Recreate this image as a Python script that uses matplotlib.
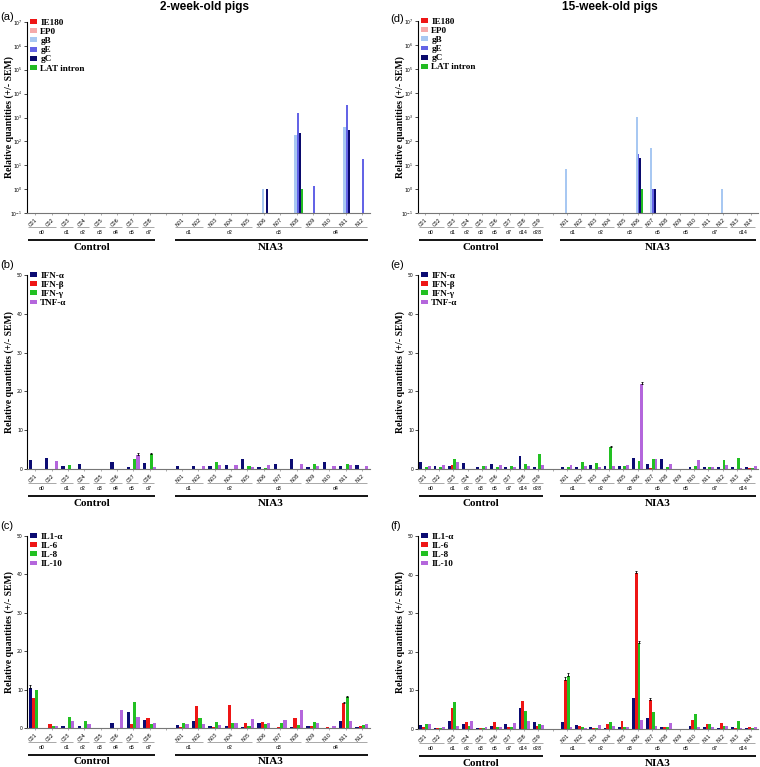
import numpy as np
import matplotlib
matplotlib.use('Agg')
import matplotlib.pyplot as plt
from matplotlib.transforms import blended_transform_factory
from matplotlib.ticker import LogLocator, NullLocator, FixedLocator

W, H = 760, 767
SERIF = 'Liberation Serif'
SANS = 'Liberation Sans'

# ---- samples / days ----
samples_2w = ['C01', 'C02', 'C03', 'C04', 'C05', 'C06', 'C07', 'C08',
              'N01', 'N02', 'N03', 'N04', 'N05', 'N06', 'N07', 'N08', 'N09', 'N10', 'N11', 'N12']
days_2w = ['d0', 'd0', 'd1', 'd2', 'd3', 'd4', 'd5', 'd7',
           'd1', 'd1', 'd2', 'd2', 'd2', 'd3', 'd3', 'd3', 'd4', 'd4', 'd4', 'd4']
nctrl_2w = 8

samples_15w = ['C01', 'C02', 'C03', 'C04', 'C05', 'C06', 'C07', 'C08', 'C09',
               'N01', 'N02', 'N03', 'N04', 'N05', 'N06', 'N07', 'N08', 'N09', 'N10', 'N11', 'N12', 'N13', 'N14']
days_15w = ['d0', 'd0', 'd1', 'd2', 'd3', 'd5', 'd7', 'd14', 'd28',
            'd1', 'd1', 'd2', 'd2', 'd3', 'd3', 'd5', 'd5', 'd6', 'd6', 'd7', 'd7', 'd14', 'd14']
nctrl_15w = 9

# ---- (a) viral genes, 2-week ----
ie180_2w = [0, 0, 0, 0, 0, 0, 0, 0, 0, 0, 0, 0, 0, 0, 0, 0, 0, 0, 0, 0]
ep0_2w = [0, 0, 0, 0, 0, 0, 0, 0, 0, 0, 0, 0, 0, 0, 0, 0, 0, 0, 0, 0]
gB_2w = [0, 0, 0, 0, 0, 0, 0, 0, 0, 0, 0, 0, 0, 1.0, 0, 180, 0, 0, 400, 0]
gE_2w = [0, 0, 0, 0, 0, 0, 0, 0, 0, 0, 0, 0, 0, 0, 0, 1600, 1.3, 0, 3500, 19]
gC_2w = [0, 0, 0, 0, 0, 0, 0, 0, 0, 0, 0, 0, 0, 1.0, 0, 220, 0, 0, 300, 0]
lat_2w = [0, 0, 0, 0, 0, 0, 0, 0, 0, 0, 0, 0, 0, 0, 0, 1.0, 0, 0, 0, 0]

# ---- (d) viral genes, 15-week ----
ie180_15w = [0, 0, 0, 0, 0, 0, 0, 0, 0, 0, 0, 0, 0, 0, 0, 0, 0, 0, 0, 0, 0, 0, 0]
ep0_15w = [0, 0, 0, 0, 0, 0, 0, 0, 0, 0, 0, 0, 0, 0, 0, 0, 0, 0, 0, 0, 0, 0, 0]
gB_15w = [0, 0, 0, 0, 0, 0, 0, 0, 0, 6.5, 0, 0, 0, 0, 1000, 50, 0, 0, 0, 0, 1.0, 0, 0]
gE_15w = [0, 0, 0, 0, 0, 0, 0, 0, 0, 0, 0, 0, 0, 0, 30, 1.0, 0, 0, 0, 0, 0, 0, 0]
gC_15w = [0, 0, 0, 0, 0, 0, 0, 0, 0, 0, 0, 0, 0, 0, 19, 1.0, 0, 0, 0, 0, 0, 0, 0]
lat_15w = [0, 0, 0, 0, 0, 0, 0, 0, 0, 0, 0, 0, 0, 0, 1.0, 0, 0, 0, 0, 0, 0, 0, 0]

# ---- (b) interferons / TNF, 2-week ----
ifna_2w = [2.2, 2.9, 0.7, 1.2, 0, 1.7, 0.5, 1.6, 0.9, 0.9, 0.9, 1.0, 2.6, 0.5, 1.3, 2.5, 0.6, 1.7, 0.9, 1.0]
ifnb_2w = [0, 0, 0, 0, 0, 0.1, 0, 0, 0.1, 0, 0, 0, 0, 0, 0, 0, 0, 0, 0, 0]
ifng_2w = [0, 0, 1.1, 0, 0, 0, 2.6, 3.9, 0, 0, 1.9, 0, 0.9, 0.2, 0, 0, 1.3, 0, 1.2, 0]
tnfa_2w = [0, 2.1, 0, 0, 0, 0, 3.7, 0.6, 0, 0.7, 1.1, 1.1, 0.4, 1.1, 0, 1.3, 0.9, 0.8, 1.1, 0.7]

# ---- (e) interferons / TNF, 15-week ----
ifna_15w = [1.7, 0.8, 0.7, 1.5, 0.5, 1.3, 0.6, 3.4, 0.5, 0.4, 0.4, 1.0, 0.8, 0.8, 2.8, 1.2, 2.5, 0, 0.5, 0.6, 0.6, 0.6, 0.4]
ifnb_15w = [0, 0, 1.0, 0, 0, 0, 0, 0, 0, 0, 0, 0, 0, 0, 0, 0.3, 0, 0, 0, 0, 0, 0, 0.3]
ifng_15w = [0.6, 0.4, 2.6, 0, 0.8, 0.4, 0.9, 1.2, 3.9, 0.4, 1.8, 1.5, 5.6, 0.8, 2.0, 2.7, 0.6, 0, 0.9, 0.4, 2.3, 2.8, 0.2]
tnfa_15w = [0.9, 1.0, 1.7, 0, 0.9, 1.1, 0.6, 0.8, 1.1, 1.1, 0.9, 0.5, 0.9, 1.0, 22.0, 2.5, 1.4, 0, 2.2, 0.6, 1.0, 0.3, 0.9]

# ---- (c) interleukins, 2-week ----
il1a_2w = [10.3, 0, 0.4, 0.5, 0, 1.3, 4.2, 2.0, 0.8, 1.7, 0.5, 0.6, 0.3, 1.3, 0, 0.3, 0.5, 0.1, 1.7, 0.3]
il6_2w = [7.8, 1.1, 0, 0, 0, 0, 1.0, 2.6, 0.2, 5.7, 0.3, 6.0, 1.3, 1.5, 0.3, 2.6, 0.6, 0.3, 6.4, 0.4]
il8_2w = [10.0, 0.5, 2.9, 1.8, 0, 0, 6.7, 1.0, 1.3, 2.5, 1.5, 1.3, 0.4, 1.1, 1.3, 0.7, 1.6, 0.1, 8.0, 0.7]
il10_2w = [0, 0.6, 1.8, 1.1, 0, 4.7, 2.8, 1.2, 1.0, 1.1, 0.8, 1.3, 2.4, 1.4, 2.0, 4.6, 1.3, 0.6, 1.9, 1.1]

# ---- (f) interleukins, 15-week ----
il1a_15w = [1.1, 0.2, 2.2, 1.2, 0.2, 0.9, 1.2, 5.4, 1.7, 1.7, 1.0, 0.5, 0.3, 0.5, 8.0, 2.8, 0.4, 0, 0.8, 0.6, 0.3, 0.4, 0.2]
il6_15w = [0.5, 0.3, 5.4, 1.7, 0.2, 1.7, 0.4, 7.2, 0.7, 12.8, 0.7, 0.3, 1.2, 2.2, 40.3, 7.5, 0.4, 0, 2.3, 1.2, 1.6, 0.2, 0.6]
il8_15w = [1.4, 0.3, 7.0, 0.9, 0.2, 0.6, 0.4, 4.6, 1.3, 13.7, 0.6, 0.2, 1.7, 0.4, 22.3, 4.5, 0.6, 0, 3.9, 1.2, 0.8, 2.1, 0.3]
il10_15w = [1.2, 0.4, 0.7, 2.2, 0.6, 0.4, 1.5, 2.1, 1.1, 0.6, 0.3, 1.1, 0.8, 0.6, 2.4, 0.9, 1.5, 0, 0.5, 0.6, 0.9, 0.3, 0.4]

# visible SEM bars (series index, sample) -> sem
sem_b = {(3, 'C07'): 0.3, (2, 'C08'): 0.2}
sem_c = {(0, 'C01'): 0.9, (1, 'N11'): 0.3, (2, 'N11'): 0.3}
sem_e = {(3, 'N06'): 0.5, (2, 'N04'): 0.4}
sem_f = {(1, 'N06'): 0.7, (2, 'N06'): 0.5, (1, 'N01'): 0.6, (2, 'N01'): 0.7, (1, 'N07'): 0.5}

gene_names = ['IE180', 'EP0', 'gB', 'gE', 'gC', 'LAT intron']
gene_colors = ['#ee1515', '#f5aaaa', '#a8c8f2', '#6464e6', '#0a0a6c', '#22bb22']
ifn_names = ['IFN-α', 'IFN-β', 'IFN-γ', 'TNF-α']
il_names = ['IL1-α', 'IL-6', 'IL-8', 'IL-10']
cyt_colors = ['#0b0b72', '#ee1515', '#22c022', '#b466dc']


def rect(x0, x1, y0, y1):
    return [x0 / W, 1 - y1 / H, (x1 - x0) / W, (y1 - y0) / H]


def panel(ax, series, names, colors, samples, days, nctrl, log=False, sems=None):
    n = len(series)
    slots = np.array(list(range(nctrl)) + list(range(nctrl + 1, len(samples) + 1)))
    nslots = len(samples) + 1
    width = 0.8 / n
    for k, (vals, col, name) in enumerate(zip(series, colors, names)):
        vals = np.array(vals, float)
        xs = slots + (k - (n - 1) / 2) * width
        if log:
            ax.bar(xs, np.where(vals > 0, vals - 0.1, 0), width, bottom=0.1, color=col,
                   linewidth=0, label=name)
        else:
            ax.bar(xs, vals, width, color=col, linewidth=0, label=name)
    if sems:
        for (k, s), e in sems.items():
            i = samples.index(s)
            ax.errorbar(slots[i] + (k - (n - 1) / 2) * width, series[k][i], yerr=[[0], [e]],
                        fmt='none', ecolor='black', elinewidth=0.6, capsize=0.8, capthick=0.6)

    ax.set_xlim(-0.5, nslots - 0.5)
    labels = samples[:nctrl] + [''] + samples[nctrl:]
    ax.set_xticks(range(nslots))
    ax.set_xticklabels(labels)
    for lab in ax.get_xticklabels():
        lab.set_rotation(45)
        lab.set_ha('right')
        lab.set_rotation_mode('anchor')
    ax.tick_params(axis='x', length=1.5, width=0.5, color='#888888', labelsize=3.6, pad=1.5)
    ax.tick_params(axis='y', length=2, width=0.5, labelsize=3.3, pad=1)
    for s in ['top', 'right']:
        ax.spines[s].set_visible(False)
    ax.spines['left'].set_linewidth(0.8)
    ax.spines['bottom'].set_color('#777777')
    ax.spines['bottom'].set_linewidth(0.8)

    if log:
        ax.set_yscale('log')
        ax.set_ylim(0.1, 1e7)
        ax.yaxis.set_major_locator(LogLocator(base=10, numticks=20))
        ax.yaxis.set_minor_locator(NullLocator())
    else:
        ax.set_ylim(0, 50)
        ax.yaxis.set_major_locator(FixedLocator([0, 10, 20, 30, 40, 50]))

    ax.set_ylabel('Relative quantities (+/- SEM)', family=SERIF, weight='bold', fontsize=7.0,
                  va='center')
    hpx = ax.get_position().height * H
    wpx = ax.get_position().width * W
    ax.yaxis.set_label_coords(-18 / wpx, 0.5)

    tr = blended_transform_factory(ax.transData, ax.transAxes)
    yf = lambda d: -d / hpx

    # day groups
    i = 0
    while i < len(samples):
        j = i
        while j + 1 < len(samples) and days[j + 1] == days[i] and (j + 1 != nctrl):
            j += 1
        x0, x1 = slots[i] - 0.45, slots[j] + 0.3
        ax.plot([x0, x1], [yf(14), yf(14)], transform=tr, color='#9a9a9a', lw=0.6,
                clip_on=False, solid_capstyle='butt')
        ax.text((x0 + x1) / 2, yf(19.5), days[i], transform=tr, fontsize=3.4,
                ha='center', va='center')
        i = j + 1

    # treatment groups
    for name, a, b in [('Control', 0, nctrl - 1), ('NIA3', nctrl, len(samples) - 1)]:
        x0, x1 = slots[a] - 0.45, slots[b] + 0.35
        ax.plot([x0, x1], [yf(27), yf(27)], transform=tr, color='black', lw=1.3,
                clip_on=False, solid_capstyle='butt')
        ax.text((x0 + x1) / 2, yf(34), name, transform=tr, family=SERIF, weight='bold',
                fontsize=8, ha='center', va='center')

    ax.legend(loc='upper left', bbox_to_anchor=(0.0, 1.03), frameon=False,
              prop={'family': SERIF, 'weight': 'bold', 'size': 6.6},
              handlelength=0.8, handleheight=0.45, handletextpad=0.35,
              labelspacing=0.12, borderpad=0.1, borderaxespad=0.2)


fig = plt.figure(figsize=(W / 100, H / 100), dpi=100)

ax_a = fig.add_axes(rect(27, 370, 22, 213))
ax_b = fig.add_axes(rect(27, 370, 275, 469))
ax_c = fig.add_axes(rect(27, 370, 536, 728))
ax_d = fig.add_axes(rect(418, 758, 21, 213))
ax_e = fig.add_axes(rect(418, 758, 275, 469))
ax_f = fig.add_axes(rect(418, 758, 536, 729))

panel(ax_a, [ie180_2w, ep0_2w, gB_2w, gE_2w, gC_2w, lat_2w], gene_names, gene_colors,
      samples_2w, days_2w, nctrl_2w, log=True)
panel(ax_b, [ifna_2w, ifnb_2w, ifng_2w, tnfa_2w], ifn_names, cyt_colors,
      samples_2w, days_2w, nctrl_2w, sems=sem_b)
panel(ax_c, [il1a_2w, il6_2w, il8_2w, il10_2w], il_names, cyt_colors,
      samples_2w, days_2w, nctrl_2w, sems=sem_c)
panel(ax_d, [ie180_15w, ep0_15w, gB_15w, gE_15w, gC_15w, lat_15w], gene_names, gene_colors,
      samples_15w, days_15w, nctrl_15w, log=True)
panel(ax_e, [ifna_15w, ifnb_15w, ifng_15w, tnfa_15w], ifn_names, cyt_colors,
      samples_15w, days_15w, nctrl_15w, sems=sem_e)
panel(ax_f, [il1a_15w, il6_15w, il8_15w, il10_15w], il_names, cyt_colors,
      samples_15w, days_15w, nctrl_15w, sems=sem_f)

fig.text(204 / W, 1 - 7 / H, '2-week-old pigs', family=SANS, weight='bold', fontsize=8.5,
         ha='center', va='center')
fig.text(610 / W, 1 - 7 / H, '15-week-old pigs', family=SANS, weight='bold', fontsize=8.5,
         ha='center', va='center')
for lab, x, y in [('(a)', 0, 17), ('(b)', 0, 265), ('(c)', 0, 526),
                  ('(d)', 390, 19), ('(e)', 390, 265), ('(f)', 390, 526)]:
    fig.text(x / W, 1 - y / H, lab, family=SANS, fontsize=8, ha='left', va='center')

fig.savefig('out.png', dpi=100)
